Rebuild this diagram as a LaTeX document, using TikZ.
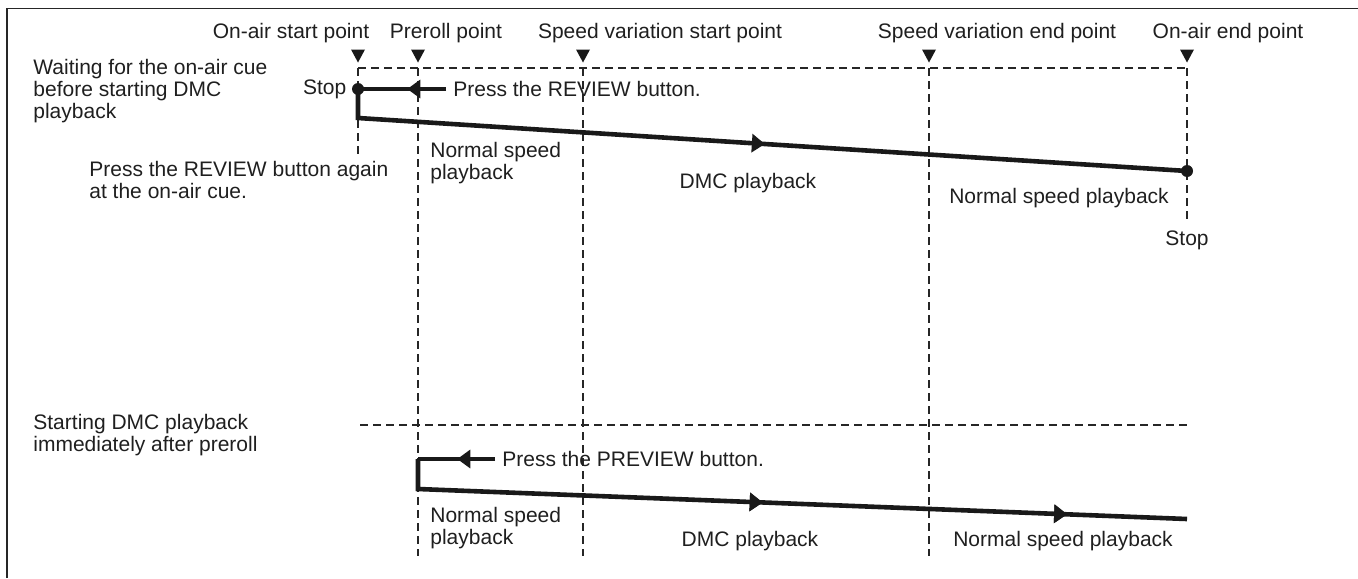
\documentclass[tikz,border=0pt]{standalone}
\usepackage{fontspec}
\setmainfont{Liberation Sans}
\usetikzlibrary{arrows.meta, positioning, calc, decorations.markings}

\begin{document}
\begin{tikzpicture}[
    x=0.5pt, y=-0.5pt,
    font=\fontsize{10.5}{11}\selectfont,
    lbl/.style={inner sep=0pt, text=black!88, align=left},
    guide/.style={dash pattern=on 4.2pt off 2.3pt, line width=0.95pt, black!85},
    track/.style={line width=2.3pt, black!90, line join=miter},
    dot/.style={circle, fill=black!90, inner sep=0pt, minimum size=6pt},
    midarr/.style={postaction={decorate}, decoration={markings,
        mark=at position #1 with {\arrow{Triangle[length=6.5pt, width=9pt]}}}},
  ]
  \useasboundingbox (0,0) rectangle (1358,578);
  % frame
  \draw[black!85, line width=0.7pt] (7,578) -- (7,8.5) -- (1358,8.5);

  % points on the time line
  \node[lbl] (tOnStart) at (291,33) {On-air start point};
  \node[lbl] (tPreroll) at (446,33) {Preroll point};
  \node[lbl] (tVarStart) at (660,33) {Speed variation start point};
  \node[lbl] (tVarEnd) at (997,33) {Speed variation end point};
  \node[lbl] (tOnEnd) at (1228,33) {On-air end point};
  \foreach \x in {358,418,583,929,1187}
    \fill[black!90] (\x-7,49.5) -- (\x+7,49.5) -- (\x,62.5) -- cycle;

  % dashed guides
  \draw[guide] (358,68) -- (1187,68);
  \foreach \x/\yb in {358/155, 418/556, 583/556, 929/556, 1187/222}
    \draw[guide] (\x,68) -- (\x,\yb);
  \draw[guide] (360,425) -- (1187,425);

  % waiting for the on-air cue
  \node[lbl, anchor=west] (caseA) at (33,91) {Waiting for the on-air cue\\before starting DMC\\playback};
  \node[dot] (stopA) at (358,89) {};
  \node[lbl, left=2.5pt of stopA] (stopAtxt) {Stop};
  \node[lbl, anchor=west] (revA) at (453,89) {Press the REVIEW button.};
  \coordinate (revAend) at (446,89);
  \coordinate (cueA) at (358,118);
  \node[dot] (endA) at (1187,171) {};
  \draw[track, midarr=0.44] (revAend) -- (stopA.center);
  \draw[track, midarr=0.508] (stopA.center) -- (cueA) -- (endA.center);
  \node[lbl, anchor=west] (againA) at (89,180) {Press the REVIEW button again\\at the on-air cue.};
  \node[lbl, anchor=west] (normA) at (430,163.5) {Normal speed\\playback};
  \node[lbl] (dmcA) at (748,183) {DMC playback};
  \node[lbl] (norm2A) at (1059,198) {Normal speed playback};
  \node[lbl] (stopA2) at (1187,240) {Stop};

  % starting DMC immediately after preroll
  \node[lbl, anchor=west] (caseB) at (33,435) {Starting DMC playback\\immediately after preroll};
  \node[lbl, anchor=west] (prevB) at (502,459) {Press the PREVIEW button.};
  \coordinate (prevBend) at (495,459);
  \coordinate (preB) at (418,459);
  \coordinate (goB) at (418,489);
  \coordinate (endB) at (1187,519);
  \draw[track, midarr=0.49] (prevBend) -- (preB);
  \draw[track, midarr=0.469, midarr=0.85] (preB) -- (goB) -- (endB);
  \node[lbl, anchor=west] (normB) at (430,528.5) {Normal speed\\playback};
  \node[lbl] (dmcB) at (750,541) {DMC playback};
  \node[lbl] (norm2B) at (1063,541) {Normal speed playback};
\end{tikzpicture}
\end{document}
